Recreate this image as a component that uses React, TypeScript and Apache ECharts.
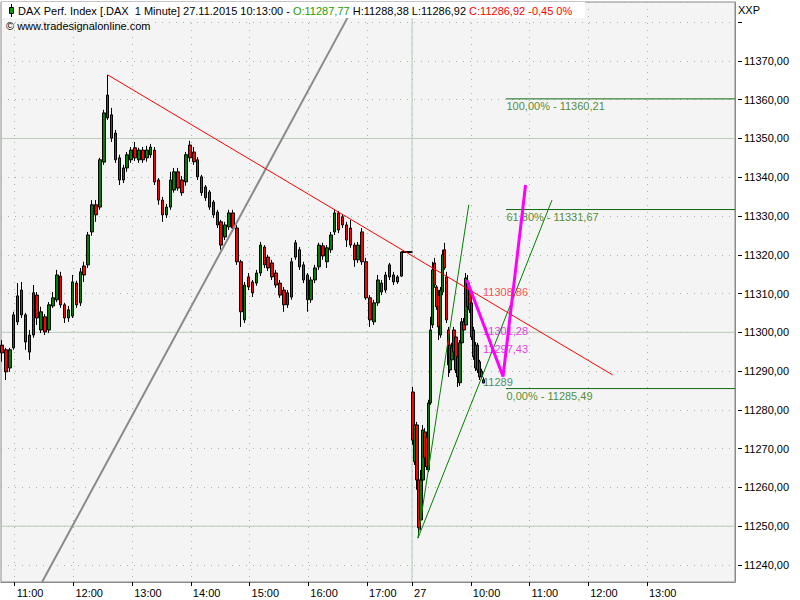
import React, { useEffect, useRef } from "react";
import * as echarts from "echarts";

type Candle = [string, number, number, number, number]; // time, open, close, low, high

// 26.11.2015 (~4 minute sampling)
const day1Candles: Candle[] = [
  ["10:47", 11296.7, 11294.7, 11292.4, 11298.0],
  ["10:51", 11295.5, 11289.8, 11287.7, 11296.0],
  ["10:55", 11290.8, 11295.5, 11289.8, 11296.0],
  ["10:59", 11296.0, 11304.5, 11295.5, 11305.3],
  ["11:03", 11302.7, 11309.4, 11301.9, 11312.7],
  ["11:07", 11310.9, 11304.5, 11303.7, 11313.0],
  ["11:11", 11304.5, 11297.5, 11295.5, 11305.0],
  ["11:15", 11299.3, 11294.9, 11292.9, 11300.6],
  ["11:19", 11299.3, 11310.2, 11298.6, 11312.2],
  ["11:23", 11309.6, 11303.7, 11301.9, 11310.4],
  ["11:27", 11300.6, 11305.3, 11299.8, 11306.6],
  ["11:31", 11304.0, 11300.1, 11299.3, 11304.7],
  ["11:35", 11300.6, 11307.1, 11299.8, 11307.8],
  ["11:39", 11306.8, 11308.9, 11306.3, 11310.4],
  ["11:43", 11308.4, 11314.8, 11307.8, 11316.1],
  ["11:47", 11314.5, 11307.1, 11306.3, 11315.6],
  ["11:51", 11307.1, 11303.7, 11302.4, 11307.6],
  ["11:55", 11303.7, 11305.8, 11302.7, 11306.8],
  ["11:59", 11304.2, 11313.0, 11303.7, 11314.8],
  ["12:03", 11312.7, 11307.1, 11306.3, 11313.3],
  ["12:07", 11307.6, 11315.6, 11306.8, 11316.6],
  ["12:11", 11317.1, 11314.8, 11313.0, 11318.2],
  ["12:15", 11317.4, 11325.1, 11316.6, 11325.9],
  ["12:19", 11325.9, 11332.9, 11324.9, 11334.1],
  ["12:23", 11332.9, 11330.3, 11328.5, 11334.1],
  ["12:27", 11332.3, 11344.5, 11331.6, 11345.0],
  ["12:31", 11343.9, 11356.6, 11343.2, 11357.4],
  ["12:35", 11361.2, 11355.3, 11354.8, 11366.4],
  ["12:39", 11356.1, 11350.1, 11349.1, 11357.9],
  ["12:43", 11351.4, 11344.5, 11343.7, 11352.2],
  ["12:47", 11345.0, 11339.3, 11338.0, 11345.8],
  ["12:51", 11339.3, 11342.4, 11338.5, 11343.2],
  ["12:55", 11342.4, 11345.8, 11341.4, 11346.5],
  ["12:59", 11344.5, 11347.0, 11343.7, 11347.8],
  ["13:03", 11347.6, 11345.0, 11344.2, 11349.1],
  ["13:07", 11344.5, 11347.0, 11343.7, 11347.6],
  ["13:11", 11347.0, 11344.5, 11343.7, 11347.8],
  ["13:15", 11345.0, 11347.0, 11344.0, 11348.1],
  ["13:19", 11345.8, 11347.8, 11345.0, 11348.6],
  ["13:23", 11347.0, 11338.8, 11338.0, 11347.8],
  ["13:27", 11339.3, 11334.1, 11332.9, 11339.8],
  ["13:31", 11334.1, 11330.3, 11328.5, 11334.9],
  ["13:35", 11330.3, 11332.3, 11329.5, 11333.1],
  ["13:39", 11332.3, 11339.3, 11331.6, 11341.4],
  ["13:43", 11336.7, 11341.4, 11336.0, 11342.4],
  ["13:47", 11341.4, 11337.2, 11336.5, 11342.4],
  ["13:51", 11339.3, 11336.0, 11335.2, 11340.3],
  ["13:55", 11338.8, 11345.8, 11337.8, 11346.5],
  ["13:59", 11348.3, 11345.0, 11344.0, 11349.4],
  ["14:03", 11346.5, 11344.0, 11343.2, 11347.8],
  ["14:07", 11344.5, 11340.1, 11339.3, 11345.2],
  ["14:11", 11340.1, 11336.0, 11335.2, 11340.6],
  ["14:15", 11337.5, 11334.7, 11333.9, 11338.0],
  ["14:19", 11336.2, 11332.3, 11331.6, 11336.7],
  ["14:23", 11333.6, 11330.3, 11329.5, 11334.1],
  ["14:27", 11331.0, 11327.7, 11326.9, 11331.6],
  ["14:31", 11328.5, 11322.5, 11321.3, 11329.0],
  ["14:35", 11324.6, 11327.7, 11323.8, 11328.5],
  ["14:39", 11327.2, 11330.8, 11326.4, 11331.6],
  ["14:43", 11330.8, 11326.9, 11325.9, 11331.6],
  ["14:47", 11326.9, 11318.2, 11317.4, 11327.7],
  ["14:51", 11318.2, 11305.3, 11301.4, 11318.7],
  ["14:55", 11303.2, 11312.2, 11302.4, 11313.0],
  ["14:59", 11314.3, 11311.7, 11310.9, 11315.3],
  ["15:03", 11313.0, 11310.2, 11309.1, 11313.5],
  ["15:07", 11312.7, 11315.3, 11312.0, 11316.1],
  ["15:11", 11315.3, 11322.5, 11314.5, 11323.3],
  ["15:15", 11322.0, 11317.4, 11316.6, 11322.5],
  ["15:19", 11319.4, 11316.6, 11315.8, 11320.0],
  ["15:23", 11317.9, 11314.3, 11313.5, 11318.7],
  ["15:27", 11315.3, 11312.2, 11311.5, 11316.1],
  ["15:31", 11312.7, 11309.6, 11308.9, 11313.5],
  ["15:35", 11310.9, 11307.1, 11305.3, 11311.7],
  ["15:39", 11307.1, 11310.2, 11306.3, 11310.9],
  ["15:43", 11309.1, 11318.2, 11308.4, 11319.2],
  ["15:47", 11319.4, 11323.1, 11318.7, 11323.8],
  ["15:51", 11321.3, 11316.9, 11316.1, 11322.0],
  ["15:55", 11317.4, 11313.5, 11312.7, 11318.2],
  ["15:59", 11314.8, 11308.4, 11305.3, 11315.3],
  ["16:03", 11308.4, 11313.5, 11307.6, 11314.3],
  ["16:07", 11313.5, 11316.6, 11312.7, 11317.4],
  ["16:11", 11316.9, 11322.5, 11316.1, 11323.1],
  ["16:15", 11322.3, 11319.7, 11318.7, 11323.1],
  ["16:19", 11318.2, 11321.8, 11316.6, 11322.5],
  ["16:23", 11321.3, 11325.1, 11320.5, 11325.9],
  ["16:27", 11325.9, 11330.8, 11325.1, 11331.6],
  ["16:31", 11330.8, 11326.4, 11325.6, 11331.3],
  ["16:35", 11329.8, 11327.7, 11326.9, 11330.5],
  ["16:39", 11327.7, 11323.8, 11322.0, 11328.5],
  ["16:43", 11326.9, 11322.5, 11321.8, 11329.0],
  ["16:47", 11322.5, 11318.7, 11316.9, 11323.1],
  ["16:51", 11318.7, 11322.5, 11317.9, 11323.3],
  ["16:55", 11325.9, 11318.2, 11317.4, 11326.9],
  ["16:59", 11318.2, 11308.9, 11308.4, 11319.2],
  ["17:03", 11308.9, 11303.2, 11301.4, 11309.6],
  ["17:07", 11302.7, 11307.6, 11301.9, 11308.4],
  ["17:11", 11307.6, 11313.5, 11306.8, 11314.8],
  ["17:15", 11312.7, 11310.4, 11309.6, 11313.5],
  ["17:19", 11310.9, 11314.8, 11310.2, 11315.6],
  ["17:23", 11317.4, 11314.3, 11313.5, 11317.9],
  ["17:27", 11314.8, 11313.0, 11312.2, 11315.6],
  ["17:31", 11313.0, 11314.3, 11312.5, 11314.8],
  ["17:35", 11314.5, 11320.7, 11314.3, 11320.7],
  ["17:36", 11320.7, 11320.7, 11320.7, 11320.7],
  ["17:37", 11320.7, 11320.7, 11320.7, 11320.7],
  ["17:38", 11320.7, 11320.7, 11320.7, 11320.7],
  ["17:39", 11320.7, 11320.7, 11320.7, 11320.7],
  ["17:40", 11320.7, 11320.7, 11320.7, 11320.7],
  ["17:41", 11320.7, 11320.7, 11320.7, 11320.7],
  ["17:42", 11320.7, 11320.7, 11320.7, 11320.7],
  ["17:43", 11320.7, 11320.7, 11320.7, 11320.7],
  ["17:44", 11320.7, 11320.7, 11320.7, 11320.7],
  ["17:45", 11320.7, 11320.7, 11320.7, 11320.7],
];

// 27.11.2015 (~2 minute sampling)
const day2Candles: Candle[] = [
  ["09:01", 11284.6, 11272.2, 11271.0, 11285.9],
  ["09:03", 11266.6, 11276.1, 11265.8, 11277.4],
  ["09:05", 11276.1, 11261.9, 11259.4, 11276.9],
  ["09:07", 11261.9, 11249.6, 11247.0, 11262.4],
  ["09:09", 11251.6, 11261.9, 11249.0, 11264.5],
  ["09:11", 11261.9, 11274.8, 11260.6, 11276.1],
  ["09:13", 11274.3, 11267.6, 11266.6, 11275.3],
  ["09:15", 11273.0, 11265.3, 11264.5, 11274.1],
  ["09:17", 11264.5, 11281.8, 11264.0, 11282.6],
  ["09:19", 11281.8, 11300.6, 11281.3, 11304.0],
  ["09:21", 11301.9, 11316.1, 11301.1, 11318.2],
  ["09:23", 11317.9, 11312.2, 11311.5, 11319.2],
  ["09:25", 11311.7, 11306.6, 11305.8, 11312.2],
  ["09:27", 11309.6, 11301.4, 11298.0, 11310.9],
  ["09:29", 11299.3, 11310.9, 11298.6, 11311.7],
  ["09:31", 11310.4, 11320.0, 11309.6, 11321.3],
  ["09:33", 11321.3, 11316.6, 11316.1, 11323.1],
  ["09:35", 11314.3, 11303.2, 11302.4, 11315.6],
  ["09:37", 11300.6, 11291.6, 11288.5, 11301.4],
  ["09:39", 11290.3, 11296.7, 11289.5, 11298.0],
  ["09:41", 11292.9, 11296.2, 11292.1, 11297.3],
  ["09:43", 11300.6, 11294.9, 11293.9, 11301.4],
  ["09:45", 11298.8, 11290.3, 11289.5, 11299.8],
  ["09:47", 11293.7, 11288.5, 11285.9, 11294.7],
  ["09:49", 11287.0, 11297.3, 11286.2, 11298.0],
  ["09:51", 11297.3, 11302.7, 11296.5, 11303.7],
  ["09:53", 11302.7, 11300.6, 11299.8, 11303.7],
  ["09:55", 11301.9, 11314.0, 11301.1, 11315.3],
  ["09:57", 11312.7, 11306.6, 11305.8, 11314.8],
  ["09:59", 11310.9, 11305.8, 11305.0, 11312.2],
  ["10:01", 11307.6, 11298.8, 11298.0, 11308.4],
  ["10:03", 11300.6, 11293.7, 11292.9, 11301.4],
  ["10:05", 11290.8, 11296.7, 11290.0, 11297.5],
  ["10:07", 11296.7, 11290.3, 11289.5, 11297.3],
  ["10:09", 11292.4, 11288.5, 11287.7, 11292.9],
  ["10:11", 11288.5, 11290.0, 11288.0, 11290.6],
  ["10:13", 11287.77, 11286.92, 11286.92, 11288.38],
];

const xTickLabels = ["D1 11:00", "D1 12:00", "D1 13:00", "D1 14:00", "D1 15:00", "D1 16:00", "D1 17:00", "D2 09:00", "D2 10:00", "D2 11:00", "D2 12:00", "D2 13:00"];
const dayBreak = "D2 09:00";
const dayBreakLabel = "27";
const solidLevels = [11250, 11300, 11350];

const yMin = 11235.6;
const yMax = 11385.2;
const yLabelMax = 11370;

// drawing tools (time, price)
const trendLine: [string, number][] = [["D1 12:35", 11366.4], ["D2 12:25", 11289.0]];
const grayLine: [string, number][] = [["D1 11:28", 11235.6], ["D1 16:40", 11381.1]];
const fanSteep: [string, number][] = [["D2 09:06", 11246.9], ["D2 09:58", 11332.9]];
const fanFlat: [string, number][] = [["D2 09:06", 11246.9], ["D2 11:23", 11334.1]];
const projection: [string, number][] = [["D2 09:56", 11313.5], ["D2 10:33", 11288.6], ["D2 10:56", 11338.0]];

const fibNames = ["100,00%", "61,80%", "0,00%"];
const fibLevels = [11360.21, 11331.67, 11285.49];
const fibStart = "D2 10:36";
const fibEnd = "D2 14:30";

const priceLabelTexts = ["11308,86", "11301,28", "11297,43", "11289"];
const priceLabelAnchors: [string, number][] = [["D2 10:12", 11310.4], ["D2 10:12", 11300.4], ["D2 10:12", 11295.8], ["D2 10:12", 11287.1]];
const priceLabelColors = ["#ff1a1a", "#e600e6", "#e600e6", "#107048"];

const FONT = "'Liberation Sans', Arial, sans-serif";

function pad(n: number) {
  return n < 10 ? "0" + n : "" + n;
}
function fmtMin(m: number) {
  return pad(Math.floor(m / 60)) + ":" + pad(m % 60);
}
const categories: string[] = [];
for (let m = 10 * 60 + 46; m <= 17 * 60 + 45; m++) categories.push("D1 " + fmtMin(m));
for (let m = 9 * 60; m <= 14 * 60 + 30; m++) categories.push("D2 " + fmtMin(m));

const idx = (key: string) => categories.indexOf(key);
const candleData = [
  ...day1Candles.map(([t, o, c, l, h]) => [idx("D1 " + t), o, c, l, h]),
  ...day2Candles.map(([t, o, c, l, h]) => [idx("D2 " + t), o, c, l, h]),
];

const comma = (v: number) => v.toFixed(2).replace(".", ",");
const lastCandle = day2Candles[day2Candles.length - 1];

const isTick = (_i: number, v: string) => xTickLabels.indexOf(v) >= 0;

function lineSeries(data: [string, number][], color: string, width: number, z: number) {
  return {
    type: "line",
    silent: true,
    z,
    symbol: "none",
    data,
    lineStyle: { color, width, type: "solid" },
    emphasis: { disabled: true },
  };
}

export default function App() {
  const ref = useRef<HTMLDivElement>(null);
  useEffect(() => {
    if (!ref.current) return;
    const chart = echarts.init(ref.current, undefined, { renderer: "svg" });
    const first = categories[0];
    const last = categories[categories.length - 1];
    const SOLID = "#b9cbb9";
    const DOT = "#a3b6a3";
    const option: any = {
      animation: false,
      backgroundColor: "#ffffff",
      grid: {
        left: 1,
        right: 65,
        top: 2,
        bottom: 18,
        show: true,
        backgroundColor: "#f4f4f4",
        borderColor: "#8a8a8a",
        borderWidth: 1,
        containLabel: false,
        outerBoundsMode: "none",
      },
      xAxis: {
        type: "category",
        data: categories,
        boundaryGap: false,
        axisLine: { show: true, lineStyle: { color: "#8a8a8a" } },
        axisTick: { show: true, interval: isTick, length: 4, lineStyle: { color: "#000" } },
        axisLabel: {
          show: true,
          interval: isTick,
          formatter: (v: string) => (v === dayBreak ? dayBreakLabel : v.slice(3)),
          color: "#000",
          fontSize: 11,
          fontFamily: FONT,
          align: "left",
          padding: [0, 0, 0, 2],
          margin: 5,
        },
        splitLine: { show: true, interval: isTick, lineStyle: { color: DOT, type: [1, 6] } },
      },
      yAxis: {
        type: "value",
        position: "right",
        min: yMin,
        max: yMax,
        minInterval: 10,
        maxInterval: 10,
        axisLine: { show: true, lineStyle: { color: "#8a8a8a" } },
        axisTick: { show: true, length: 7, lineStyle: { color: "#000", type: [0, 3, 4, 20] } },
        axisLabel: {
          color: "#000",
          fontSize: 11,
          fontFamily: FONT,
          margin: 9,
          showMinLabel: false,
          showMaxLabel: false,
          formatter: (v: number) =>
            Math.abs(v / 10 - Math.round(v / 10)) < 1e-6 && v <= yLabelMax ? comma(v) : "",
        },
        splitLine: { show: true, lineStyle: { color: DOT, type: [1, 6] } },
      },
      graphic: [
        { type: "rect", z: 20, silent: true, shape: { x: 2, y: 2, width: 583, height: 16 }, style: { fill: "#ffffff" } },
        { type: "line", z: 21, silent: true, shape: { x1: 11.5, y1: 4, x2: 11.5, y2: 17 }, style: { stroke: "#000", lineWidth: 1 } },
        { type: "rect", z: 22, silent: true, shape: { x: 9.5, y: 7.5, width: 4, height: 6 }, style: { fill: "#00a000", stroke: "#000", lineWidth: 1 } },
        {
          type: "text",
          z: 22,
          silent: true,
          x: 18,
          y: 11,
          style: {
            text:
              "{k|DAX Perf. Index [.DAX  1 Minute] 27.11.2015 10:13:00 - }{g|O:" +
              comma(lastCandle[1]) +
              "}{k| H:" +
              comma(lastCandle[4]) +
              " L:" +
              comma(lastCandle[3]) +
              " }{r|C:" +
              comma(lastCandle[2]) +
              " -0,45 0%}",
            verticalAlign: "middle",
            fontSize: 11,
            fontFamily: FONT,
            rich: {
              k: { fill: "#000", fontSize: 11, fontFamily: FONT },
              g: { fill: "#22a000", fontSize: 11, fontFamily: FONT },
              r: { fill: "#ff0000", fontSize: 11, fontFamily: FONT },
            },
          },
        },
        {
          type: "text",
          z: 22,
          silent: true,
          x: 6,
          y: 26,
          style: { text: "© www.tradesignalonline.com", verticalAlign: "middle", fill: "#000", fontSize: 11, fontFamily: FONT },
        },
        {
          type: "text",
          z: 22,
          silent: true,
          x: 738,
          y: 10,
          style: { text: "XXP", verticalAlign: "middle", fill: "#000", fontSize: 11, fontFamily: FONT },
        },
      ],
      series: [
        ...solidLevels.map((v) => lineSeries([[first, v], [last, v]], SOLID, 1, 1)),
        lineSeries([[dayBreak, yMin], [dayBreak, yMax]], SOLID, 1, 1),
        {
          type: "candlestick",
          z: 2,
          silent: true,
          barWidth: 3,
          encode: { x: 0, y: [1, 2, 3, 4] },
          data: candleData,
          itemStyle: {
            color: "#008000",
            color0: "#ff0000",
            borderColor: "#000",
            borderColor0: "#000",
            borderColorDoji: "#000",
            borderWidth: 1,
          },
        },
        lineSeries(grayLine, "#8a8a8a", 2, 3),
        lineSeries(trendLine, "#ff0000", 1, 3),
        lineSeries(fanSteep, "#008000", 1, 3),
        lineSeries(fanFlat, "#008000", 1, 3),
        ...fibLevels.map((v) => lineSeries([[fibStart, v], [fibEnd, v]], "#0f6a0f", 1, 3)),
        {
          type: "scatter",
          z: 4,
          silent: true,
          symbolSize: 1,
          itemStyle: { color: "rgba(0,0,0,0)" },
          data: fibLevels.map((v, i) => ({
            value: [fibStart, v],
            label: {
              show: true,
              position: [1, 2],
              formatter: fibNames[i] + " - " + comma(v),
              color: "#1f7000",
              fontSize: 11,
              fontFamily: FONT,
            },
          })),
        },
        {
          type: "scatter",
          z: 4,
          silent: true,
          symbolSize: 1,
          itemStyle: { color: "rgba(0,0,0,0)" },
          data: priceLabelAnchors.map((a, i) => ({
            value: a,
            label: {
              show: true,
              position: "right",
              distance: 0,
              formatter: priceLabelTexts[i],
              color: priceLabelColors[i],
              fontSize: 11,
              fontFamily: FONT,
            },
          })),
        },
        lineSeries(projection, "#ff00ff", 3, 5),
      ],
    };
    chart.setOption(option);
    return () => chart.dispose();
  }, []);
  return (
    <div
      ref={ref}
      style={{ position: "fixed", left: 0, top: 0, width: 800, height: 600, background: "#ffffff" }}
    />
  );
}
